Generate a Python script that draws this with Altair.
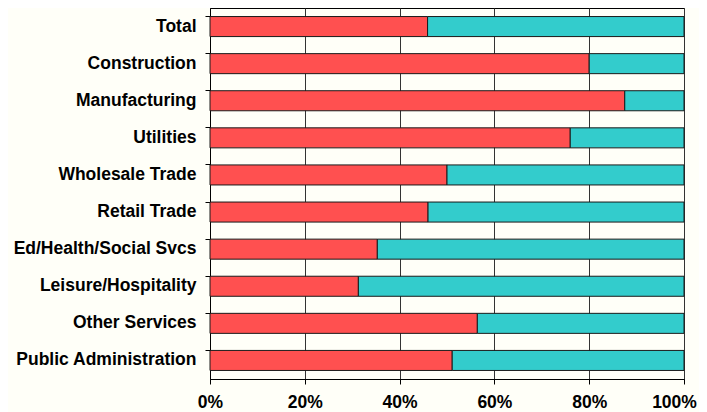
import altair as alt
import pandas as pd

categories = ["Total", "Construction", "Manufacturing", "Utilities", "Wholesale Trade",
              "Retail Trade", "Ed/Health/Social Svcs", "Leisure/Hospitality",
              "Other Services", "Public Administration"]
red_share = [45.9, 80.0, 87.5, 76.0, 50.0, 46.0, 35.3, 31.3, 56.4, 51.1]
teal_share = [100 - v for v in red_share]
series = ["Share A", "Share B"]
colors = ["#FF5050", "#33CCCC"]

rows = []
for c, r, t in zip(categories, red_share, teal_share):
    rows.append({"category": c, "series": series[0], "value": r, "ord": 0})
    rows.append({"category": c, "series": series[1], "value": t, "ord": 1})
df = pd.DataFrame(rows)

bg = "#FFFFF8"
font = "Liberation Sans"

chart = alt.Chart(df).mark_bar(stroke="#1a1a1a", strokeWidth=1).encode(
    y=alt.Y("category:N", sort=categories, title=None,
            scale=alt.Scale(paddingInner=0.46, paddingOuter=0.23),
            axis=alt.Axis(labelFont=font, labelFontSize=17.5, labelFontWeight="bold",
                          labelColor="black", labelPadding=9, tickSize=5,
                          tickColor="black", domainColor="black", bandPosition=0,
                          grid=False, labelLimit=300)),
    x=alt.X("value:Q", stack="normalize", title=None,
            scale=alt.Scale(domain=[0, 1], nice=False),
            axis=alt.Axis(format=".0%", values=[0, 0.2, 0.4, 0.6, 0.8, 1.0],
                          labelFont=font, labelFontSize=17.5, labelFontWeight="bold",
                          labelColor="black", labelPadding=9, tickSize=5,
                          labelFlush=False,
                          labelOffset=alt.ExprRef("datum.value >= 1 ? -10 : 0"),
                          tickColor="black", domainColor="black",
                          grid=True, gridColor="#333333", gridWidth=1)),
    color=alt.Color("series:N", scale=alt.Scale(domain=series, range=colors), legend=None),
    order=alt.Order("ord:Q"),
).properties(
    width=474, height=371,
    autosize=alt.AutoSizeParams(type="none"),
    padding={"left": 202, "top": 0, "right": 15, "bottom": 34},
    background=bg,
).configure_view(stroke="black", strokeWidth=1, fill=bg)

chart.save("out.html", embed_options={"renderer": "svg", "actions": False})
